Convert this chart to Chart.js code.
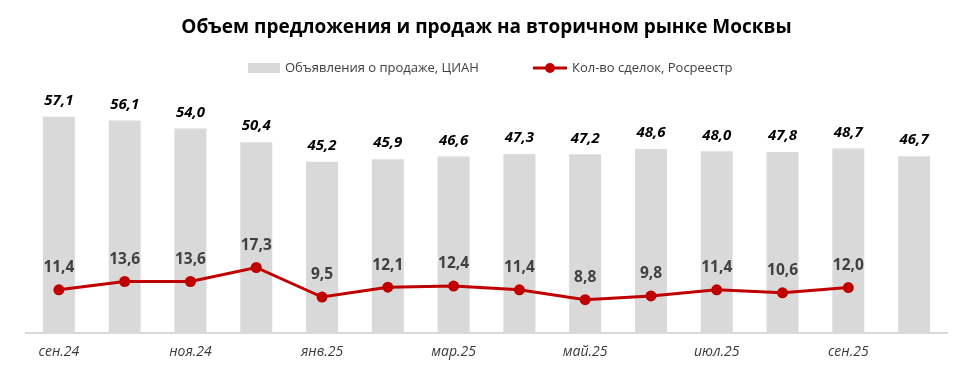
<!DOCTYPE html>
<html>
<head>
<meta charset="utf-8">
<script src="https://cdn.jsdelivr.net/npm/chart.js@4.4.1/dist/chart.umd.min.js"></script>
<style>
  html, body { margin: 0; padding: 0; background: #fff; }
  #wrap { width: 968px; height: 369px; }
</style>
</head>
<body>
<div id="wrap"><canvas id="myChart"></canvas></div>
<script>
// Данные
const months = ['сен.24', 'окт.24', 'ноя.24', 'дек.24', 'янв.25', 'фев.25', 'мар.25', 'апр.25', 'май.25', 'июн.25', 'июл.25', 'авг.25', 'сен.25', 'окт.25'];
const listings = [57.1, 56.1, 54.0, 50.4, 45.2, 45.9, 46.6, 47.3, 47.2, 48.6, 48.0, 47.8, 48.7, 46.7];
const deals = [11.4, 13.6, 13.6, 17.3, 9.5, 12.1, 12.4, 11.4, 8.8, 9.8, 11.4, 10.6, 12.0, null];
const seriesNames = ['Объявления о продаже, ЦИАН', 'Кол-во сделок, Росреестр'];
const chartTitle = 'Объем предложения и продаж на вторичном рынке Москвы';

const FONT = "'Open Sans', 'Noto Sans', sans-serif";
const fmt = v => v.toFixed(1).replace('.', ',');

// подписи значений + легенда
const labelsPlugin = {
    id: 'valueLabels',
    afterDatasetsDraw(chart) {
        const c = chart.ctx;
        c.save();
        c.textAlign = 'center';
        c.textBaseline = 'middle';

        const barMeta = chart.getDatasetMeta(1);
        c.font = 'italic bold 15px ' + FONT;
        c.fillStyle = '#000';
        barMeta.data.forEach((el, i) => {
            c.fillText(fmt(listings[i]), el.x, el.y - 16);
        });

        const lineMeta = chart.getDatasetMeta(0);
        c.font = 'bold 15.5px ' + FONT;
        c.fillStyle = '#404040';
        lineMeta.data.forEach((el, i) => {
            if (deals[i] == null) return;
            c.fillText(fmt(deals[i]), el.x, el.y - 22);
        });

        // легенда
        const ly = 68;
        c.font = '13px ' + FONT;
        c.textAlign = 'left';
        c.fillStyle = '#D9D9D9';
        c.fillRect(248, ly - 5, 32, 10);
        c.fillStyle = '#404040';
        c.fillText(seriesNames[0], 285, ly);

        c.strokeStyle = '#C00000';
        c.lineWidth = 3;
        c.beginPath();
        c.moveTo(533, ly);
        c.lineTo(567, ly);
        c.stroke();
        c.fillStyle = '#C00000';
        c.beginPath();
        c.arc(550, ly, 5, 0, Math.PI * 2);
        c.fill();
        c.fillStyle = '#404040';
        c.fillText(seriesNames[1], 572, ly);
        c.restore();
    }
};

const ctx = document.getElementById('myChart').getContext('2d');
const myChart = new Chart(ctx, {
    data: {
        labels: months,
        datasets: [{
            type: 'line',
            label: seriesNames[1],
            data: deals,
            borderColor: '#C00000',
            backgroundColor: '#C00000',
            borderWidth: 3,
            pointRadius: 5.5,
            pointBackgroundColor: '#C00000',
            pointBorderWidth: 0,
            tension: 0,
            order: 0
        }, {
            type: 'bar',
            label: seriesNames[0],
            data: listings,
            backgroundColor: '#D9D9D9',
            categoryPercentage: 1,
            barPercentage: 0.486,
            order: 1
        }]
    },
    options: {
        responsive: true,
        maintainAspectRatio: false,
        animation: false,
        layout: {
            padding: { left: 26, right: 21, top: 0, bottom: 0 }
        },
        plugins: {
            legend: { display: false },
            tooltip: { enabled: false },
            title: {
                display: true,
                text: chartTitle,
                color: '#000',
                font: { family: FONT, size: 19, weight: 'bold', lineHeight: 1.2 },
                padding: { top: 16, bottom: 67 }
            }
        },
        scales: {
            x: {
                grid: { display: false, drawTicks: false },
                border: { display: true, color: '#D9D9D9', width: 2 },
                afterFit(scale) { scale.height = 36; },
                ticks: {
                    autoSkip: false,
                    maxRotation: 0,
                    padding: 11,
                    color: '#3a3a3a',
                    font: { family: FONT, size: 14, style: 'italic' },
                    callback: function (value, index) {
                        return index % 2 === 0 ? this.getLabelForValue(value) : '';
                    }
                }
            },
            y: {
                display: false,
                min: 0,
                max: 60
            }
        }
    },
    plugins: [labelsPlugin]
});
</script>
</body>
</html>
